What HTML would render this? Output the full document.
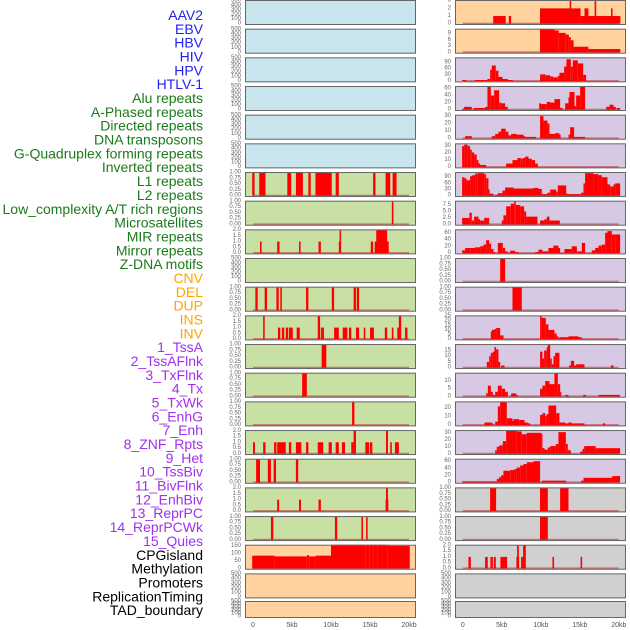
<!DOCTYPE html>
<html><head><meta charset="utf-8"><style>
html,body{margin:0;padding:0;background:#fff;width:630px;height:630px;overflow:hidden}
svg{display:block}
text{font-family:"Liberation Sans",sans-serif}
</style></head><body>
<svg id="chart" width="630" height="630" viewBox="0 0 630 630" xmlns="http://www.w3.org/2000/svg">
<g id="labels"></g>
<g id="panels"></g>
<g id="xaxis"></g>
</svg>
<script>
// ---- data (segments: [startKb, endKb, value]) ----
const featureLabels = ["AAV2","EBV","HBV","HIV","HPV","HTLV-1","Alu repeats","A-Phased repeats","Directed repeats","DNA transposons","G-Quadruplex forming repeats","Inverted repeats","L1 repeats","L2 repeats","Low_complexity A/T rich regions","Microsatellites","MIR repeats","Mirror repeats","Z-DNA motifs","CNV","DEL","DUP","INS","INV","1_TssA","2_TssAFlnk","3_TxFlnk","4_Tx","5_TxWk","6_EnhG","7_Enh","8_ZNF_Rpts","9_Het","10_TssBiv","11_BivFlnk","12_EnhBiv","13_ReprPC","14_ReprPCWk","15_Quies","CPGisland","Methylation","Promoters","ReplicationTiming","TAD_boundary"];
const labelGroups = [6,13,5,15,5];
const xTickKb = [0,5,10,15,20];
const xTickLabels = ["0","5kb","10kb","15kb","20kb"];

const midL1 = [[-0.1,0.2,1],[0.8,1.6,1],[4.4,4.9,1],[5.5,6.4,1],[7.1,7.4,1],[8.0,10.1,1],[10.6,11.0,1],[15.4,15.7,1],[17.0,17.6,1],[17.9,18.4,1]];
const midR7 = [[17.8,18.0,1]];
const midR8 = [[0.9,1.1,1],[3.1,3.4,1],[5.9,6.1,1],[8.4,8.7,1],[11.0,11.1,1],[11.1,11.3,2],[15.1,15.4,1],[15.6,17.4,1],[15.8,17.2,2]];
const midR10 = [[0.3,0.6,1],[1.5,1.8,1],[3.0,3.3,1],[3.5,3.7,1],[6.8,7.1,1],[10.1,10.4,1],[12.9,13.2,1],[13.3,13.6,1]];
const midR11 = [[1.3,1.5,2],[8.3,8.6,2],[18.7,19.0,2],[3.2,3.5,1],[3.7,4.0,1],[4.2,4.5,1],[4.6,5.1,1],[5.6,6.0,1],[8.7,8.9,1],[8.9,9.1,1],[10.4,11.0,1],[11.5,12.1,1],[12.3,12.6,1],[13.2,13.6,1],[14.2,14.4,1],[15.0,15.5,1],[16.9,17.2,1],[17.8,18.0,1],[18.5,18.8,1],[19.5,19.8,1]];
const midR12 = [[8.8,9.4,1]];
const midR13 = [[6.3,6.9,1]];
const midR14 = [[12.7,13.0,1]];
const midR15 = [[12.9,13.2,2],[17.05,17.3,2],[0.0,0.25,1],[1.3,1.6,1],[2.7,3.0,1],[3.1,4.2,1],[4.6,4.9,1],[5.5,6.2,1],[6.8,7.1,1],[8.3,9.0,1],[9.7,10.1,1],[10.6,11.0,1],[11.4,11.8,1],[12.6,12.9,1],[14.4,14.9,1],[15.0,15.3,1],[17.6,17.8,1],[18.2,18.7,1]];
const midR16 = [[0.4,0.9,1],[1.9,2.3,1],[2.65,2.95,1],[5.5,5.8,1]];
const midR17 = [[3.1,3.35,1],[5.9,6.15,1],[8.4,8.7,1],[17.0,17.35,1],[17.05,17.3,2]];
const midR18 = [[2.3,2.6,1],[10.5,10.8,1],[13.9,14.1,1],[14.5,14.7,1]];
const midCpg = [[-0.1,2.8,85],[2.8,6.9,80],[6.9,7.2,88],[7.2,8.0,80],[8.0,10.0,85],[10.0,14.4,160],[14.4,14.9,158],[14.9,15.5,163],[15.5,16.0,158],[16.0,16.6,168],[16.6,17.2,160],[17.2,17.5,155],[17.5,20.1,150]];

const rgtR0 = [[3.9,5.5,1],[5.9,6.2,1],[9.9,15.1,2],[13.7,13.9,3],[15.1,20.2,1],[15.6,16.1,2],[16.9,17.1,3],[19.0,19.2,2]];
const rgtR1 = [[9.9,11.75,11],[11.75,12.3,10.5],[12.3,13.2,9.3],[13.2,13.6,8.5],[13.6,13.85,7.3],[13.85,14.2,5.8],[14.2,16.1,2.7],[16.1,20.2,1.6]];
const rgtR2 = [[-0.09,0.43,5],[1.58,3.16,5],[3.16,3.5,10],[3.5,3.72,55],[3.72,4.23,75],[4.23,4.57,50],[4.57,5.09,20],[5.09,5.77,10],[5.77,6.41,5],[9.91,10.64,32],[10.64,11.2,28],[11.2,11.58,22],[11.58,12.18,18],[12.18,12.39,25],[12.39,12.99,40],[12.99,13.29,70],[13.29,13.85,105],[13.85,14.1,70],[14.1,14.74,100],[14.74,15.43,85],[15.43,15.81,30]];
const rgtR3 = [[-0.09,0.17,3],[0.17,1.15,8],[1.37,2.86,5],[2.86,3.16,8],[3.16,3.59,65],[3.59,4.02,40],[4.02,4.66,55],[4.66,4.91,20],[4.91,5.43,18],[5.43,5.77,8],[9.79,10.04,18],[10.04,10.77,16],[10.77,11.24,22],[11.24,11.75,20],[11.75,12.48,30],[12.48,12.82,5],[13.12,13.55,18],[13.55,13.68,35],[13.68,14.32,50],[14.32,14.53,10],[14.53,15.04,40],[15.04,15.68,65],[18.38,18.8,8],[18.8,19.32,14],[19.32,19.62,8],[19.74,20.17,5]];
const rgtR4 = [[0.3,1.15,3],[3.72,4.15,3],[4.15,4.57,6],[4.57,4.91,9],[4.91,5.51,13],[5.51,5.85,9],[5.85,6.2,4],[6.2,6.92,6],[6.92,7.78,5],[7.78,7.99,3],[7.99,9.36,2],[9.91,10.34,30],[10.34,10.85,24],[10.85,11.11,20],[11.11,11.84,6],[11.84,12.39,7],[12.39,12.48,5],[13.55,13.76,5],[13.76,14.27,15],[14.27,14.53,2],[14.53,15.68,2]];
const rgtR5 = [[-0.09,0.17,30],[0.17,0.64,32],[0.64,0.94,30],[0.94,1.15,25],[1.15,1.45,21],[1.45,1.79,18],[1.79,2.01,10],[2.01,2.22,5],[2.22,2.99,3],[5.56,6.37,5],[6.37,7.01,10],[7.01,7.44,13],[7.44,7.69,12],[7.69,7.99,13],[7.99,8.42,15],[8.42,8.85,12],[8.85,9.27,10],[9.27,9.62,5]];
const rgtR6 = [[-0.09,0.21,90],[0.21,0.47,85],[0.47,0.94,75],[0.94,1.24,95],[1.24,1.58,100],[1.58,1.92,108],[1.92,2.74,110],[2.74,2.99,105],[2.99,3.29,85],[3.29,3.42,30],[3.42,3.93,10],[4.15,4.49,5],[4.49,5.09,12],[5.09,5.43,25],[5.43,6.5,40],[6.5,9.06,35],[9.06,9.7,38],[9.7,10.13,33],[10.13,10.85,8],[10.85,11.2,15],[11.2,11.97,30],[11.97,12.18,20],[12.18,13.25,50],[13.25,13.55,10],[13.55,15.17,8],[15.17,15.47,15],[15.47,15.68,60],[15.68,16.75,110],[16.75,17.39,105],[17.39,17.82,100],[17.82,18.55,90],[18.55,18.89,55],[18.89,19.32,45],[19.32,19.53,55],[19.53,20.17,60]];
const rgtR7 = [[-0.09,0.85,2.5],[0.85,1.15,4.5],[1.15,1.45,1.5],[1.45,2.01,3],[2.01,2.22,2],[2.22,2.74,1.5],[2.74,3.38,2.5],[5.0,5.21,1.5],[5.21,5.56,3.5],[5.56,6.15,7],[6.15,6.58,8],[6.58,6.79,9],[6.79,7.35,7.5],[7.35,7.86,7],[7.86,8.12,5],[8.12,9.57,3],[9.91,10.47,1.5],[10.47,10.77,2],[10.77,11.11,3],[11.11,12.44,1.5]];
const rgtR8 = [[-0.09,0.3,8],[0.3,0.94,15],[0.94,1.58,15],[1.58,2.22,17],[2.22,2.65,20],[2.65,2.99,25],[2.99,3.38,38],[3.38,3.63,28],[3.63,3.93,12],[3.93,4.15,3],[4.49,5.13,30],[5.13,5.43,15],[5.43,5.77,5],[6.07,6.71,7],[6.71,7.14,3],[9.27,9.7,3],[9.7,10.21,10],[10.21,10.98,5],[10.98,11.62,15],[11.62,12.26,22],[12.26,12.48,15],[13.03,13.97,12],[13.97,14.62,20],[14.62,15.26,5],[15.26,15.68,30],[16.54,16.97,8],[16.97,17.39,15],[17.39,17.82,22],[17.82,18.25,25],[18.25,18.55,60],[18.55,19.1,65],[19.1,19.62,55],[19.62,20.17,55]];
const rgtR9 = [[4.79,5.43,1]];
const rgtR10 = [[6.37,7.56,1]];
const rgtR11 = [[3.59,3.72,8],[3.72,4.06,10],[4.06,4.27,11],[4.27,4.79,12],[4.79,5.21,4],[9.91,10.13,25],[10.13,10.64,23],[10.64,10.98,16],[10.98,11.75,10],[11.75,12.05,6],[12.05,12.26,3],[12.35,12.91,2],[12.91,13.55,2],[13.55,14.19,3],[14.19,14.83,3],[14.83,15.26,2]];
const rgtR12 = [[3.08,3.38,5],[3.38,3.59,10],[3.59,3.85,13],[3.85,4.06,14],[4.06,4.27,18],[4.27,4.57,16],[4.57,4.79,5],[4.91,5.34,2],[9.91,10.21,14],[10.21,10.43,8],[10.43,10.77,15],[10.77,10.9,18],[10.9,11.2,20],[11.2,11.41,8],[11.41,11.62,3],[11.62,11.84,10],[11.84,12.39,13],[13.63,13.85,2],[13.85,14.27,6],[14.27,14.53,2],[14.53,15.6,3],[18.97,19.32,2]];
const rgtR13 = [[2.99,3.21,2],[3.21,3.59,7],[3.59,3.85,3],[3.85,4.15,1],[4.15,4.49,3],[4.49,5.0,7],[5.0,5.43,5],[5.43,5.77,3],[6.2,6.84,2],[6.84,7.05,1],[9.91,10.21,5],[10.21,10.56,7],[10.56,11.11,10],[11.11,11.75,8],[11.75,12.18,15],[12.18,12.48,8],[12.48,12.61,3],[13.12,13.55,1],[15.43,15.81,1],[17.39,20.17,1]];
const rgtR14 = [[2.78,3.72,3],[3.72,3.93,2],[4.15,4.49,4],[4.49,4.79,22],[4.79,5.64,27],[5.64,6.37,8],[6.37,6.5,5],[6.5,7.22,7],[7.22,7.91,6],[7.91,8.33,3],[8.33,8.63,2],[9.91,10.21,12],[10.21,10.56,14],[10.56,10.77,11],[10.77,10.98,13],[10.98,11.97,23],[11.97,12.39,14],[12.39,13.12,3],[13.12,13.55,2],[13.55,13.97,3],[13.97,15.6,2],[17.95,18.25,2]];
const rgtR15 = [[4.15,4.36,5],[4.36,4.66,10],[4.66,5.13,12],[5.13,5.56,18],[5.56,6.92,33],[6.92,7.56,32],[7.56,8.21,28],[8.21,10.04,30],[10.04,10.21,29],[10.21,10.47,8],[10.47,10.9,6],[10.9,11.2,9],[11.2,11.92,11],[11.92,12.26,14],[12.26,13.21,31],[13.21,13.46,14],[13.46,13.85,5],[15.04,15.34,3],[15.34,15.56,7],[15.56,17.05,11],[17.05,20.17,8]];
const rgtR16 = [[-0.09,4.36,3],[4.36,4.66,10],[4.66,4.91,15],[4.91,5.21,20],[5.21,6.07,33],[6.07,6.62,35],[6.62,6.92,38],[6.92,7.35,42],[7.35,7.78,48],[7.78,8.21,52],[8.21,9.06,57],[9.06,9.91,60],[10.13,13.25,5],[15.17,15.47,5],[15.47,19.1,13],[19.1,19.32,17],[19.32,20.17,18]];
const rgtR17 = [[3.5,4.27,1],[9.9,10.9,1],[12.48,13.55,1]];
const rgtR18 = [[9.9,10.9,1]];
const rgtR19 = [[0.72,1.03,1],[2.86,3.2,1],[3.54,3.85,1],[3.97,4.23,1],[4.82,5.68,1],[6.87,7.22,1],[6.96,7.18,2],[7.47,7.77,1],[7.73,8.08,2],[11.49,11.7,1],[15.1,15.3,1]];

// ---- panel configuration (styles) ----
const BLUE="#c8e4ec", ORG="#ffd2a0", LAV="#d7c8e4", GRN="#c9e0a4", GRY="#d0d0d0";
const T500=[0,100,200,300,400,500], T1=[0,0.25,0.5,0.75,1], T2=[0,0.5,1,1.5,2];
const fmt1=v=>v.toFixed(2), fmt2=v=>v.toFixed(1), fmt0=v=>String(v);
const midPanels = [
 {bg:BLUE,top:500,ticks:T500,f:fmt0,d:null},{bg:BLUE,top:500,ticks:T500,f:fmt0,d:null},{bg:BLUE,top:500,ticks:T500,f:fmt0,d:null},
 {bg:BLUE,top:500,ticks:T500,f:fmt0,d:null},{bg:BLUE,top:500,ticks:T500,f:fmt0,d:null},{bg:BLUE,top:500,ticks:T500,f:fmt0,d:null},
 {bg:GRN,top:1,ticks:T1,f:fmt1,d:midL1},{bg:GRN,top:1,ticks:T1,f:fmt1,d:midR7},{bg:GRN,top:2,ticks:T2,f:fmt2,d:midR8},
 {bg:GRN,top:500,ticks:T500,f:fmt0,d:null},{bg:GRN,top:1,ticks:T1,f:fmt1,d:midR10},{bg:GRN,top:2,ticks:T2,f:fmt2,d:midR11},
 {bg:GRN,top:1,ticks:T1,f:fmt1,d:midR12},{bg:GRN,top:1,ticks:T1,f:fmt1,d:midR13},{bg:GRN,top:1,ticks:T1,f:fmt1,d:midR14},
 {bg:GRN,top:2,ticks:T2,f:fmt2,d:midR15},{bg:GRN,top:1,ticks:T1,f:fmt1,d:midR16},{bg:GRN,top:2,ticks:T2,f:fmt2,d:midR17},
 {bg:GRN,top:1,ticks:T1,f:fmt1,d:midR18},{bg:ORG,top:153,ticks:[0,50,100,150],f:fmt0,d:midCpg},
 {bg:ORG,top:500,ticks:T500,f:fmt0,d:null},{bg:ORG,top:500,ticks:T500,f:fmt0,d:null}
];
const rgtPanels = [
 {bg:ORG,top:3,ticks:[0,1,2,3],f:fmt0,d:rgtR0},{bg:ORG,top:11,ticks:[0,3,6,9],f:fmt0,d:rgtR1},
 {bg:LAV,top:111,ticks:[0,30,60,90],f:fmt0,d:rgtR2},{bg:LAV,top:65,ticks:[0,20,40,60],f:fmt0,d:rgtR3},
 {bg:LAV,top:31,ticks:[0,10,20,30],f:fmt0,d:rgtR4},{bg:LAV,top:33,ticks:[0,10,20,30],f:fmt0,d:rgtR5},
 {bg:LAV,top:112,ticks:[0,30,60,90],f:fmt0,d:rgtR6},{bg:LAV,top:8.9,ticks:[0,2.5,5,7.5],f:fmt2,d:rgtR7},
 {bg:LAV,top:68,ticks:[0,20,40,60],f:fmt0,d:rgtR8},{bg:LAV,top:1,ticks:T1,f:fmt1,d:rgtR9},
 {bg:LAV,top:1,ticks:T1,f:fmt1,d:rgtR10},{bg:LAV,top:25,ticks:[0,5,10,15,20,25],f:fmt0,d:rgtR11},
 {bg:LAV,top:20,ticks:[0,5,10,15],f:fmt0,d:rgtR12},{bg:LAV,top:15,ticks:[0,5,10],f:fmt0,d:rgtR13},
 {bg:LAV,top:27,ticks:[0,10,20],f:fmt0,d:rgtR14},{bg:LAV,top:33,ticks:[0,10,20,30],f:fmt0,d:rgtR15},
 {bg:LAV,top:65,ticks:[0,20,40,60],f:fmt0,d:rgtR16},{bg:GRY,top:1,ticks:T1,f:fmt1,d:rgtR17},
 {bg:GRY,top:1,ticks:T1,f:fmt1,d:rgtR18},{bg:GRY,top:2,ticks:T2,f:fmt2,d:rgtR19},
 {bg:GRY,top:500,ticks:T500,f:fmt0,d:null},{bg:GRY,top:500,ticks:T500,f:fmt0,d:null}
];

const NS="http://www.w3.org/2000/svg";
function mk(tag, attrs, parent){const e=document.createElementNS(NS,tag);for(const k in attrs)e.setAttribute(k,attrs[k]);parent.appendChild(e);return e;}

// labels
const labelColors=["#2222ee","#1b7a1b","#ffa500","#a030ee","#000000"];
const lg=document.getElementById('labels');
let gi=0,cnt=0;
featureLabels.forEach((t,i)=>{
  while(cnt>=labelGroups[gi]){gi++;cnt=0;}
  cnt++;
  const e=mk('text',{x:203,y:15+i*13.84,'text-anchor':'end','dominant-baseline':'central','font-size':'14',fill:labelColors[gi]},lg);
  e.textContent=t;
  
  
});

const pg=document.getElementById('panels');
function rowGeom(i){const bottom=25+28.67*i;const top=(i===21)?601:bottom-25;return{top,bottom:(i===21)?618:bottom};}
function drawColumn(panels, left, right, x0, colName){
  const xs=kb=>x0+kb*7.8;
  panels.forEach((p,i)=>{
    const g=rowGeom(i);const h=g.bottom-g.top;
    const grp=mk('g',{},pg);
    
    
    const bg=mk('rect',{x:left,y:g.top,width:right-left,height:h,fill:p.bg},grp);
    
    
    const y0=g.bottom-1.3, ppu=(h-2)/p.top;
    const ys=v=>y0-Math.min(v,p.top*1.03)*ppu;
    p.ticks.forEach(t=>{
      const e=mk('text',{x:left-4,y:ys(t),'text-anchor':'end','dominant-baseline':'central','font-size':'6',fill:'#666'},grp);
      e.textContent=p.f(t);
      
      
    });
    if(p.d){
      const bl=mk('rect',{x:xs(0),y:y0-1,width:xs(20)-xs(0),height:2,fill:'rgba(190,40,40,0.55)'},grp);
      
      
      p.d.forEach(s=>{
        const xa=xs(s[0]),xb=xs(s[1]);const w=Math.max(xb-xa,1.2);
        const yt=ys(s[2]);
        const b=mk('rect',{x:xa,y:yt,width:w,height:y0-yt,fill:'#ff0000'},grp);
        
        
      });
    }
    const bd=mk('rect',{x:left+0.5,y:g.top+0.5,width:right-left-1,height:h-1,fill:'none',stroke:'#666','stroke-width':1},grp);
    
    
  });
  const xg=document.getElementById('xaxis');
  xTickKb.forEach((k,i)=>{
    const e=mk('text',{x:xs(k),y:627,'text-anchor':'middle','font-size':'7',fill:'#555'},xg);
    e.textContent=xTickLabels[i];
    
    
  });
}
drawColumn(midPanels,245,416,253,'middle');
drawColumn(rgtPanels,455,626,462.8,'right');
</script>
</body></html>
